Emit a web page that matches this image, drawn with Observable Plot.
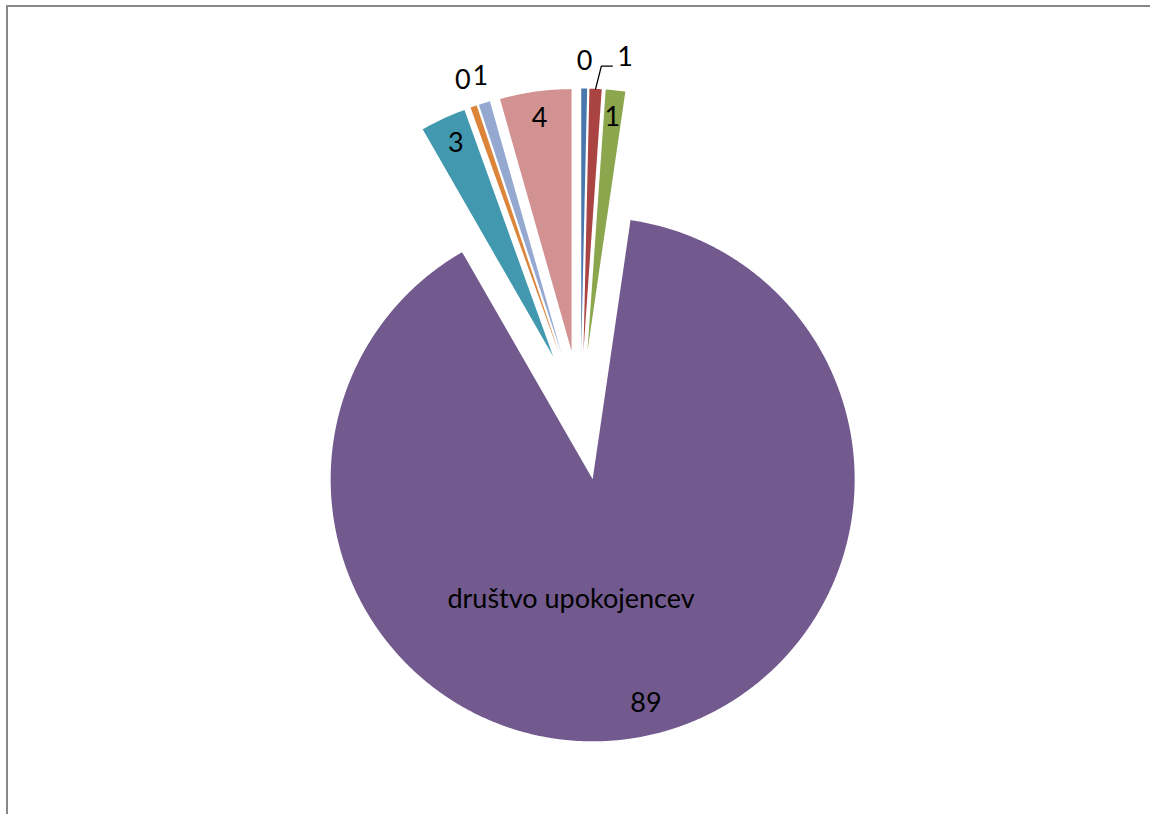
<!DOCTYPE html>
<html><head><meta charset="utf-8">
<script src="https://cdn.jsdelivr.net/npm/d3@7"></script>
<script src="https://cdn.jsdelivr.net/npm/@observablehq/plot@0.6"></script>
<style>
body{margin:0;background:#fff;overflow:hidden;width:1150px;height:814px;position:relative;}
#chart{position:absolute;left:0;top:0;}
#frame{position:absolute;left:6px;top:5px;width:1300px;height:1000px;border-left:2px solid #878787;border-top:2px solid #878787;pointer-events:none;}
</style></head><body>
<div id="chart"></div><div id="frame"></div>
<script>
// Data (percent shares)
const categories = ["1", "2", "3", "društvo upokojencev", "5", "6", "7", "8"];
const values = [0.36, 0.75, 1.2, 89.4, 2.8, 0.4, 0.7, 4.4];
const colors = ["#4A76AE", "#A94442", "#8BA64D", "#725A8E", "#4299AF", "#DC843A", "#95A8D0", "#D29292"];
const namedCategory = "društvo upokojencev";

// Layout
const W = 1150, H = 814, cx = 580, cy = 415, R = 262, explodePx = 65;
const e = explodePx / R;
const font = "Lato, 'Open Sans', sans-serif";
const fs = 27;

const arcs = d3.pie().sort(null).value(d => d)(values);
const step = Math.PI / 720;
const slices = [];
const labels = [];
arcs.forEach((a, i) => {
  const mid = (a.startAngle + a.endAngle) / 2;
  const ox = e * Math.sin(mid), oy = e * Math.cos(mid);
  slices.push({cat: categories[i], x: ox, y: oy});
  const n = Math.max(2, Math.ceil((a.endAngle - a.startAngle) / step));
  for (let k = 0; k <= n; k++) {
    const t = a.startAngle + (a.endAngle - a.startAngle) * k / n;
    slices.push({cat: categories[i], x: ox + Math.sin(t), y: oy + Math.cos(t)});
  }
  const inside = values[i] >= 1;
  const r = inside ? 0.885 : 1.09;
  labels.push({
    i, cat: categories[i], text: String(Math.round(values[i])),
    mode: i === 1 ? "leader" : (inside ? "inside" : "outside"),
    x: ox + r * Math.sin(mid), y: oy + r * Math.cos(mid),
    ex: ox + Math.sin(mid), ey: oy + Math.cos(mid)
  });
});

// nudge crowded neighbouring outside labels apart horizontally
const outside = labels.filter(d => d.mode === "outside");
outside.forEach(d => { d.dx = 0; });
for (let k = 1; k < outside.length; k++) {
  const a = outside[k - 1], b = outside[k];
  if (Math.abs(a.x - b.x) < 0.06 && Math.abs(a.y - b.y) < 0.06) { a.dx = -3; b.dx = 3; }
}

// leader line for crowded small slice
const leaderLabels = labels.filter(d => d.mode === "leader");
const leaderPts = [];
leaderLabels.forEach(d => {
  const p0 = {k: d.cat, x: d.ex, y: d.ey};
  const p1 = {k: d.cat, x: d.ex + 0.022, y: d.ey + 0.087};
  const p2 = {k: d.cat, x: p1.x + 0.042, y: p1.y};
  leaderPts.push(p0, p1, p2);
  d.lx = p2.x; d.ly = p2.y;
});

const big = labels.filter(d => d.cat === namedCategory);
const insideSmall = labels.filter(d => d.mode === "inside" && d.cat !== namedCategory);

const plot = Plot.plot({
  width: W, height: H,
  margin: 0,
  x: {domain: [-cx / R, (W - cx) / R], range: [0, W], axis: null},
  y: {domain: [-(H - cy) / R, cy / R], range: [H, 0], axis: null},
  color: {domain: categories, range: colors},
  style: {background: "transparent", fontFamily: font},
  marks: [
    Plot.line(slices, {x: "x", y: "y", z: "cat", fill: "cat", stroke: "none", curve: "linear-closed"}),
    Plot.line(leaderPts, {x: "x", y: "y", z: "k", stroke: "#000", strokeWidth: 1.3}),
    Plot.text(insideSmall, {x: "x", y: "y", text: "text", dy: -3, fontSize: fs, fontFamily: font, fill: "#000"}),
    ...outside.map(d => Plot.text([d], {x: "x", y: "y", text: "text", dx: d.dx, dy: -4, fontSize: fs, fontFamily: font, fill: "#000"})),
    Plot.text(leaderLabels, {x: "lx", y: "ly", text: "text", textAnchor: "start", dx: 5, dy: -9, fontSize: fs, fontFamily: font, fill: "#000"}),
    Plot.text(big, {x: "x", y: "y", text: "text", dx: 10, dy: -4, fontSize: fs, fontFamily: font, fill: "#000"}),
    Plot.text(big, {x: "x", y: "y", text: "cat", dx: -65, dy: -108, fontSize: fs, fontFamily: font, fill: "#000"})
  ]
});
document.getElementById("chart").appendChild(plot);
</script>
</body></html>
